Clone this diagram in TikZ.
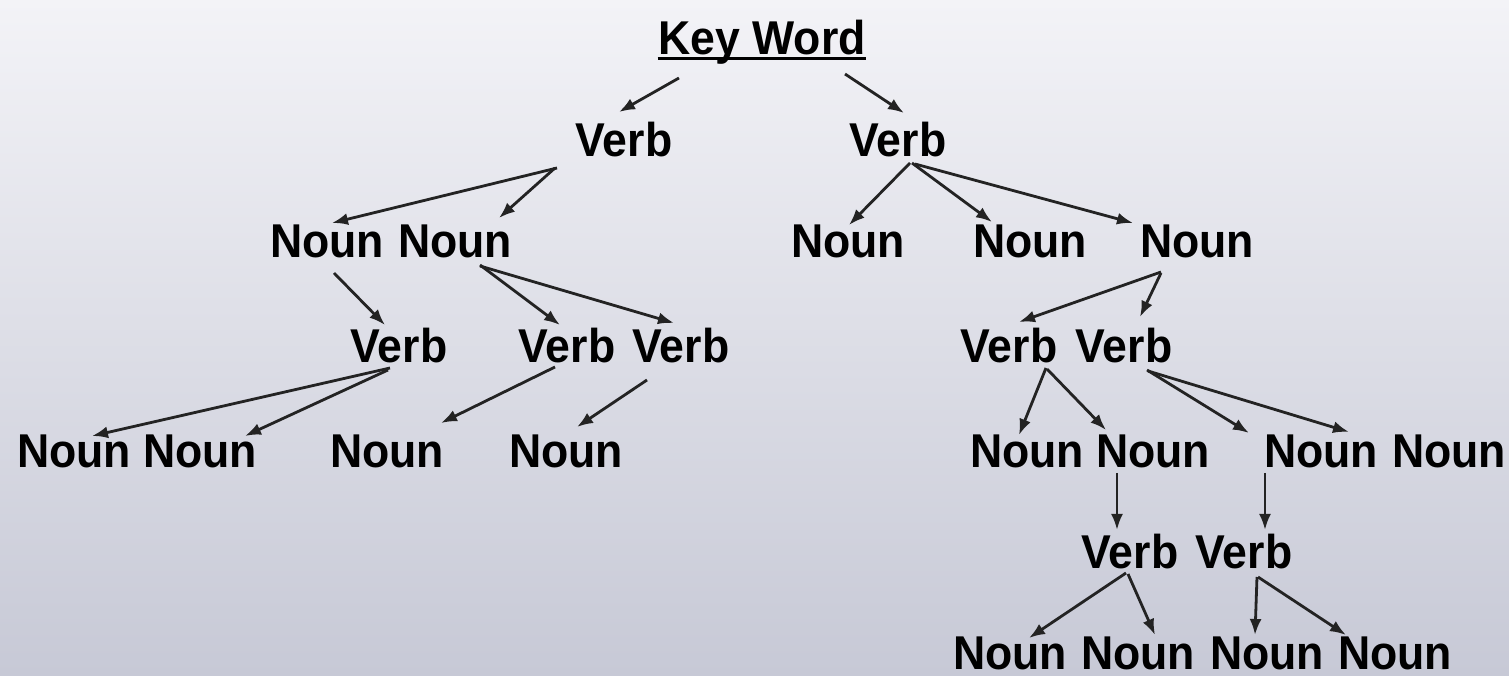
\documentclass[tikz,border=0pt]{standalone}
\usepackage{fontspec}
\usepackage{tikz}
\usetikzlibrary{arrows.meta}
\newfontfamily\treefont{Liberation Sans}[FakeStretch=0.94]
\definecolor{bgtop}{RGB}{243,243,247}
\definecolor{bgbottom}{RGB}{199,201,214}
\definecolor{linkgray}{RGB}{35,35,35}
\tikzstyle{word}=[font=\treefont\bfseries\fontsize{13.5}{16}\selectfont, inner sep=0pt, anchor=base]
\tikzstyle{link}=[draw=linkgray, line width=0.028cm, -{Latex[length=0.16cm,width=0.12cm]}]

\begin{document}
\begin{tikzpicture}
 	\useasboundingbox (0cm,0cm) rectangle (15.09cm,6.75cm);
 	\shade[top color=bgtop, bottom color=bgbottom] (0cm,0cm) rectangle (15.09cm,6.75cm);
 	% key word and first level
 	\node[word] (kw) at (7.62cm,6.20cm) {Key Word};
 	\draw[line width=0.03cm] ([yshift=-0.04cm]kw.base west) -- ([yshift=-0.04cm]kw.base east);
 	\node[word] (vL) at (6.24cm,5.18cm) {Verb};
 	\node[word] (vR) at (8.98cm,5.18cm) {Verb};
 	% second level
 	\node[word] (nA) at (3.27cm,4.17cm) {Noun};
 	\node[word] (nB) at (4.55cm,4.17cm) {Noun};
 	\node[word] (nC) at (8.48cm,4.17cm) {Noun};
 	\node[word] (nD) at (10.30cm,4.17cm) {Noun};
 	\node[word] (nE) at (11.97cm,4.17cm) {Noun};
 	% third level
 	\node[word] (vA) at (3.99cm,3.12cm) {Verb};
 	\node[word] (vB) at (5.67cm,3.12cm) {Verb};
 	\node[word] (vC) at (6.81cm,3.12cm) {Verb};
 	\node[word] (vD) at (10.09cm,3.12cm) {Verb};
 	\node[word] (vE) at (11.24cm,3.12cm) {Verb};
 	% fourth level
 	\node[word] (nF) at (0.74cm,2.08cm) {Noun};
 	\node[word] (nG) at (2.00cm,2.08cm) {Noun};
 	\node[word] (nH) at (3.87cm,2.08cm) {Noun};
 	\node[word] (nI) at (5.66cm,2.08cm) {Noun};
 	\node[word] (nJ) at (10.27cm,2.08cm) {Noun};
 	\node[word] (nK) at (11.53cm,2.08cm) {Noun};
 	\node[word] (nL) at (13.21cm,2.08cm) {Noun};
 	\node[word] (nM) at (14.49cm,2.08cm) {Noun};
 	% fifth and sixth level
 	\node[word] (vF) at (11.30cm,1.07cm) {Verb};
 	\node[word] (vG) at (12.44cm,1.07cm) {Verb};
 	\node[word] (nN) at (10.10cm,0.06cm) {Noun};
 	\node[word] (nO) at (11.38cm,0.06cm) {Noun};
 	\node[word] (nP) at (12.67cm,0.06cm) {Noun};
 	\node[word] (nQ) at (13.95cm,0.06cm) {Noun};
 	% arrows
 	\draw[link] ([shift={(-0.83cm,-0.23cm)}]kw.base) -- ([shift={(-0.05cm,0.45cm)}]vL.base);
 	\draw[link] ([shift={(0.83cm,-0.19cm)}]kw.base) -- ([shift={(0.06cm,0.44cm)}]vR.base);
 	\draw[link] ([shift={(-0.67cm,-0.11cm)}]vL.base) -- ([shift={(0.05cm,0.35cm)}]nA.base);
 	\draw[link] ([shift={(-0.69cm,-0.11cm)}]vL.base) -- ([shift={(0.44cm,0.40cm)}]nB.base);
 	\draw[link] ([shift={(0.12cm,-0.06cm)}]vR.base) -- ([shift={(0.01cm,0.33cm)}]nC.base);
 	\draw[link] ([shift={(0.14cm,-0.06cm)}]vR.base) -- ([shift={(-0.38cm,0.36cm)}]nD.base);
 	\draw[link] ([shift={(0.17cm,-0.07cm)}]vR.base) -- ([shift={(-0.64cm,0.35cm)}]nE.base);
 	\draw[link] ([shift={(0.07cm,-0.15cm)}]nA.base) -- ([shift={(-0.14cm,0.38cm)}]vA.base);
 	\draw[link] ([shift={(0.25cm,-0.07cm)}]nB.base) -- ([shift={(-0.07cm,0.38cm)}]vB.base);
 	\draw[link] ([shift={(0.25cm,-0.08cm)}]nB.base) -- ([shift={(-0.07cm,0.40cm)}]vC.base);
 	\draw[link] ([shift={(-0.36cm,-0.14cm)}]nE.base) -- ([shift={(0.10cm,0.41cm)}]vD.base);
 	\draw[link] ([shift={(-0.36cm,-0.15cm)}]nE.base) -- ([shift={(0.16cm,0.46cm)}]vE.base);
 	\draw[link] ([shift={(-0.09cm,-0.05cm)}]vA.base) -- ([shift={(0.18cm,0.31cm)}]nF.base);
 	\draw[link] ([shift={(-0.11cm,-0.07cm)}]vA.base) -- ([shift={(0.45cm,0.31cm)}]nG.base);
 	\draw[link] ([shift={(-0.12cm,-0.04cm)}]vB.base) -- ([shift={(0.54cm,0.44cm)}]nH.base);
 	\draw[link] ([shift={(-0.34cm,-0.17cm)}]vC.base) -- ([shift={(0.11cm,0.40cm)}]nI.base);
 	\draw[link] ([shift={(0.37cm,-0.05cm)}]vD.base) -- ([shift={(-0.08cm,0.32cm)}]nJ.base);
 	\draw[link] ([shift={(0.38cm,-0.06cm)}]vD.base) -- ([shift={(-0.47cm,0.37cm)}]nK.base);
 	\draw[link] ([shift={(0.23cm,-0.07cm)}]vE.base) -- ([shift={(-0.72cm,0.34cm)}]nL.base);
 	\draw[link] ([shift={(0.24cm,-0.08cm)}]vE.base) -- ([shift={(-1.00cm,0.35cm)}]nM.base);
 	\draw[link] ([shift={(-0.36cm,-0.06cm)}]nK.base) -- ([shift={(-0.13cm,0.38cm)}]vF.base);
 	\draw[link] ([shift={(-0.56cm,-0.06cm)}]nL.base) -- ([shift={(0.21cm,0.38cm)}]vG.base);
 	\draw[link] ([shift={(-0.04cm,-0.05cm)}]vF.base) -- ([shift={(0.19cm,0.31cm)}]nN.base);
 	\draw[link] ([shift={(-0.02cm,-0.06cm)}]vF.base) -- ([shift={(0.17cm,0.34cm)}]nO.base);
 	\draw[link] ([shift={(0.13cm,-0.09cm)}]vG.base) -- ([shift={(-0.12cm,0.34cm)}]nP.base);
 	\draw[link] ([shift={(0.14cm,-0.09cm)}]vG.base) -- ([shift={(-0.49cm,0.34cm)}]nQ.base);
\end{tikzpicture}
\end{document}
